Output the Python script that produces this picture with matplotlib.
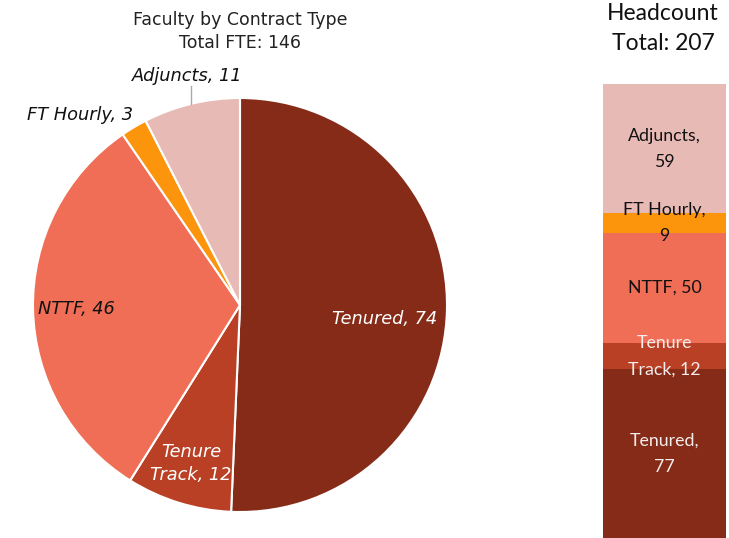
import numpy as np
import matplotlib
matplotlib.use('Agg')
import matplotlib.pyplot as plt

CATEGORIES = ["Tenured", "Tenure Track", "NTTF", "FT Hourly", "Adjuncts"]
PIE_LABELS = ["Tenured", "Tenure\nTrack", "NTTF", "FT Hourly", "Adjuncts"]
BAR_LABELS = ["Tenured,\n", "Tenure\nTrack, ", "NTTF, ", "FT Hourly,\n", "Adjuncts,\n"]
FTE = [74, 12, 46, 3, 11]
HEADCOUNT = [77, 12, 50, 9, 59]
COLORS = ["#862B18", "#B94025", "#F06E55", "#FC940C", "#E8BAB5"]
BAR_TEXT = ["#F4EDEC", "#F4EDEC", "#111111", "#111111", "#111111"]

fig = plt.figure(figsize=(7.29, 5.38), dpi=100, facecolor='white')

# Pie: FTE by contract type
ax_pie = fig.add_axes([33 / 729, 26 / 538, 414 / 729, 414 / 538])
wedges, _ = ax_pie.pie(FTE, colors=COLORS, startangle=90, counterclock=False,
                       radius=1, wedgeprops=dict(edgecolor='white', linewidth=1.5))
ax_pie.set_xlim(-1, 1)
ax_pie.set_ylim(-1, 1)
ax_pie.set_aspect('equal')
ax_pie.axis('off')

total_fte = sum(FTE)
inside = {"Tenured": 0.70, "Tenure Track": 0.80, "NTTF": 0.79}
for w, name, lab, val in zip(wedges, CATEGORIES, PIE_LABELS, FTE):
    ang = np.deg2rad((w.theta1 + w.theta2) / 2)
    c, s = np.cos(ang), np.sin(ang)
    txt = f"{lab}, {val}"
    if name in inside:
        r = inside[name]
        color = 'white' if name != "NTTF" else '#111111'
        if name == "Tenured":
            ang = np.deg2rad(-5.5)
            c, s = np.cos(ang), np.sin(ang)
        ax_pie.text(r * c, r * s, txt, ha='center', va='center', style='italic',
                    fontsize=12.8, color=color, linespacing=1.35)
    elif name == "FT Hourly":
        ax_pie.text(1.06 * c + 0.025, 1.06 * s + 0.01, txt, ha='right', va='center',
                    style='italic', fontsize=12.8, color='#111111')
    else:
        ax_pie.plot([c, c], [s, s + 0.085], color='#aaaaaa', lw=1, clip_on=False)
        ax_pie.text(c - 0.02, s + 0.09, txt, ha='center', va='bottom',
                    style='italic', fontsize=12.8, color='#111111')

fig.text(240 / 729, 1 - 20 / 538, "Faculty by Contract Type", ha='center', va='center',
         fontsize=12.5, color='#222222')
fig.text(240 / 729, 1 - 43 / 538, f"Total FTE: {total_fte}", ha='center', va='center',
         fontsize=12.5, color='#222222')

# Stacked bar: headcount
ax_bar = fig.add_axes([603 / 729, 0, 123 / 729, 454 / 538])
bottom = 0
for name, lab, val, col, tcol in zip(CATEGORIES, BAR_LABELS, HEADCOUNT, COLORS, BAR_TEXT):
    ax_bar.bar(0, val, bottom=bottom, width=1, color=col, linewidth=0)
    ax_bar.text(0, bottom + val / 2, f"{lab}{val}", ha='center', va='center',
                fontsize=12.8, family='Lato', color=tcol, linespacing=1.8)
    bottom += val
ax_bar.set_xlim(-0.5, 0.5)
ax_bar.set_ylim(0, sum(HEADCOUNT))
ax_bar.axis('off')

fig.text(663 / 729, 1 - 13 / 538, "Headcount", ha='center', va='center',
         fontsize=16.5, family='Lato', color='#111111')
fig.text(663 / 729, 1 - 43 / 538, f"Total: {sum(HEADCOUNT)}", ha='center', va='center',
         fontsize=16.5, family='Lato', color='#111111')

fig.savefig('out.png', dpi=100, facecolor='white')
